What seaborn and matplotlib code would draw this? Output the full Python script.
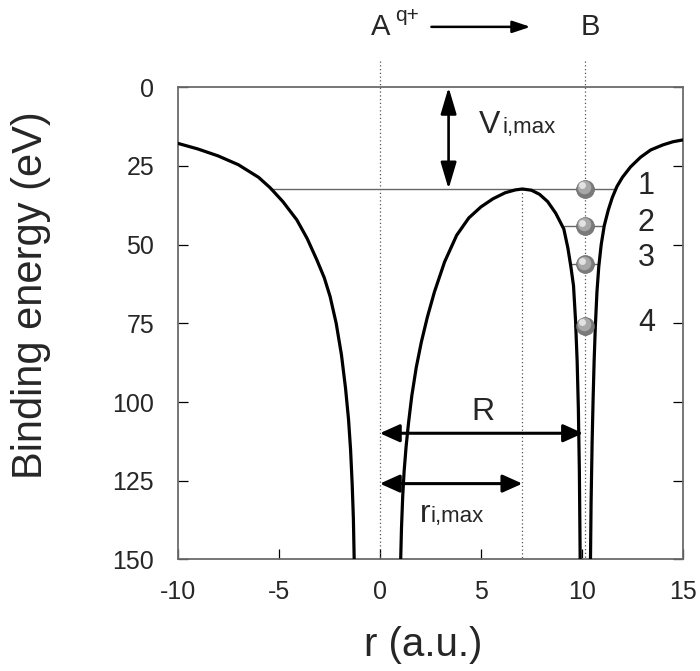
import matplotlib
matplotlib.use('Agg')
import numpy as np
import pandas as pd
import matplotlib.pyplot as plt
import seaborn as sns
from matplotlib.transforms import ScaledTranslation

# curve, three branches (left of A, between A and B, right of B)
left_r = [-10, -9, -8, -7, -6, -5.43, -4.8, -4.11, -3.6, -3.12, -2.75, -2.46,
          -2.16, -1.9, -1.7, -1.55, -1.45, -1.37, -1.31, -1.27]
left_e = [17.8, 19.6, 21.8, 24.6, 28.6, 31.9, 36.3, 42.1, 48.0, 54.8, 60.5, 66.5,
          75.0, 85.0, 95.5, 105.5, 115.0, 126.0, 137.0, 150.0]

mid_r = [1.03, 1.07, 1.13, 1.2, 1.3, 1.42, 1.58, 1.8, 2.05, 2.35, 2.7, 3.2, 3.8,
         4.4, 5.0, 5.6, 6.2, 6.7, 7.05, 7.5, 7.9, 8.3, 8.7, 9.1, 9.3, 9.45, 9.58,
         9.68, 9.76, 9.82, 9.87, 9.91]
mid_e = [150.0, 140.0, 130.0, 122.0, 114.0, 106.5, 98.0, 89.0, 81.0, 73.0, 65.0,
         55.5, 47.0, 41.5, 38.0, 35.4, 33.5, 32.6, 32.3, 32.7, 34.0, 36.3, 40.0,
         45.0, 51.0, 57.0, 63.0, 74.0, 87.0, 102.0, 122.0, 150.0]

right_r = [10.42, 10.45, 10.5, 10.55, 10.6, 10.66, 10.74, 10.83, 10.95, 11.1, 11.3,
           11.5, 11.73, 12.0, 12.4, 12.9, 13.4, 14.0, 14.5, 15.0]
right_e = [150.0, 132.0, 113.0, 99.0, 87.0, 76.0, 65.0, 57.0, 50.0, 44.0, 39.0,
           35.0, 31.5, 28.6, 25.3, 22.2, 19.9, 18.3, 17.3, 16.7]

# bound levels in the B well
level_e = [32.2, 44.0, 56.2, 75.7]
level_from = [-5.43, 9.09, 9.5, 9.58]
level_to = [11.68, 11.1, 10.8, 10.66]
level_names = ['1', '2', '3', '4']
level_label_e = [31.5, 43.1, 54.2, 74.9]

pos_a = 0.0
pos_b = 10.17
r_max = 7.05
e_max = 32.3
guide_top = -8.3

df = pd.concat([
    pd.DataFrame({'r': left_r, 'E': left_e, 'branch': 'left'}),
    pd.DataFrame({'r': mid_r, 'E': mid_e, 'branch': 'mid'}),
    pd.DataFrame({'r': right_r, 'E': right_e, 'branch': 'right'}),
])

sns.set_style('ticks')
plt.rcParams['font.family'] = ['Liberation Sans', 'DejaVu Sans']
plt.rcParams['axes.unicode_minus'] = False

fig = plt.figure(figsize=(7, 6.71), dpi=100)
ax = fig.add_axes([0.2539, 0.1662, 0.7219, 0.7037])

# dotted guides
dot = dict(color='#555555', lw=0.9, ls=(0, (1, 2)), clip_on=False, zorder=1)
ax.plot([pos_a, pos_a], [guide_top, 150], **dot)
ax.plot([pos_b, pos_b], [guide_top, 150], **dot)
ax.plot([r_max, r_max], [e_max, 150], **dot)

# level lines
for e, a, b in zip(level_e, level_from, level_to):
    ax.plot([a, b], [e, e], color='#666666', lw=1.0, zorder=2)

sns.lineplot(data=df, x='r', y='E', units='branch', estimator=None, sort=False,
             color='black', lw=2.3, ax=ax, zorder=3)

# electrons as shaded balls
ball_r = [pos_b] * len(level_e)
sns.scatterplot(x=ball_r, y=level_e, s=165, color='#7a7a7a', edgecolor='#6a6a6a',
                linewidth=0.5, ax=ax, zorder=4)
off1 = ax.transData + ScaledTranslation(-1 / 72, 1 / 72, fig.dpi_scale_trans)
off2 = ax.transData + ScaledTranslation(-2.3 / 72, 2.3 / 72, fig.dpi_scale_trans)
ax.scatter(ball_r, level_e, s=95, color='#a8a8a8', lw=0, transform=off1, zorder=5)
ax.scatter(ball_r, level_e, s=25, color='#e2e2e2', lw=0, transform=off2, zorder=6)

for name, e in zip(level_names, level_label_e):
    ax.text(13.18, e, name, fontsize=22, ha='center', va='center')

# arrows
def arrow(p0, p1, style, lw=1.9):
    ax.annotate('', xy=p1, xytext=p0, annotation_clip=False,
                arrowprops=dict(arrowstyle=style, mutation_scale=12, lw=lw,
                                color='black', shrinkA=0, shrinkB=0))

arrow((2.55, -19.2), (7.45, -19.2), '-|>,head_length=0.9,head_width=0.3', lw=1.8)
arrow((3.4, e_max), (3.4, 0), '<|-|>,head_length=1.35,head_width=0.4')
arrow((pos_a, 109.9), (10.05, 109.9), '<|-|>,head_length=1.0,head_width=0.45', lw=2.2)
arrow((pos_a, 125.9), (r_max, 125.9), '<|-|>,head_length=1.0,head_width=0.45', lw=2.2)

ax.text(0.05, -16.6, 'A', fontsize=21, ha='center', va='baseline')
ax.text(0.75, -21.0, 'q+', fontsize=15, ha='left', va='baseline')
ax.text(10.41, -16.6, 'B', fontsize=21, ha='center', va='baseline')

ax.text(4.9, 14.6, 'V', fontsize=23, ha='left', va='baseline')
ax.text(6.05, 14.6, 'i,max', fontsize=16, ha='left', va='baseline')
ax.text(5.1, 103.2, 'R', fontsize=23, ha='center', va='center')
ax.text(2.0, 138.2, 'r', fontsize=23, ha='left', va='baseline')
ax.text(2.5, 138.2, 'i,max', fontsize=16, ha='left', va='baseline')

ax.set_xlim(-10, 15)
ax.set_ylim(150, 0)
ax.set_xticks(range(-10, 16, 5))
ax.set_yticks(range(0, 151, 25))
ax.tick_params(direction='in', length=7, width=0.9, color='black', labelsize=18,
               right=True, top=False)
ax.tick_params(axis='y', pad=17)
ax.tick_params(axis='x', pad=15)
for s in ax.spines.values():
    s.set_color('#6b6b6b')
    s.set_linewidth(1.3)

ax.set_xlabel('r (a.u.)', fontsize=29)
ax.set_ylabel('Binding energy (eV)', fontsize=30)
ax.xaxis.set_label_coords(0.485, -0.14)
ax.yaxis.set_label_coords(-0.25, 0.56)

fig.savefig('out.png', dpi=100)
